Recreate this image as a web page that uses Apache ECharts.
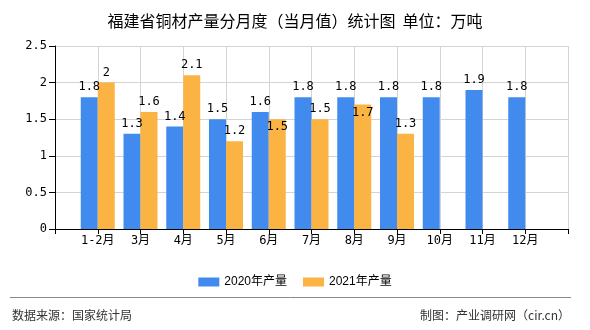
<!DOCTYPE html>
<html>
<head>
<meta charset="utf-8">
<script src="https://cdn.jsdelivr.net/npm/echarts@6/dist/echarts.min.js"></script>
<style>html,body{margin:0;padding:0;background:#fff;}#c{width:590px;height:330px;}</style>
</head>
<body>
<div id="c"></div>
<script>
const categories = ['1-2月','3月','4月','5月','6月','7月','8月','9月','10月','11月','12月'];
const values2020 = [1.8, 1.3, 1.4, 1.5, 1.6, 1.8, 1.8, 1.8, 1.8, 1.9, 1.8];
const values2021 = [2, 1.6, 2.1, 1.2, 1.5, 1.5, 1.7, 1.3, null, null, null];
const yTicks = [0, 0.5, 1, 1.5, 2, 2.5];
const seriesNames = ['2020年产量', '2021年产量'];

const monoFont = '"DejaVu Sans Mono", "Noto Sans CJK SC", monospace';
const cjkFont = '"Noto Sans CJK SC", sans-serif';

// pad axis with an empty slot at each end (the reference axis extends one step beyond first/last month)
const axisCats = [''].concat(categories, ['']);
function pad(arr) { return [null].concat(arr, [null]); }

const insideLabel2021 = { 4: true, 6: true };
const data2021 = pad(values2021).map((v, i) => {
  const k = i - 1;
  if (v !== null && insideLabel2021[k]) {
    return { value: v, label: { position: 'insideTop', distance: 2 } };
  }
  return v;
});

const chart = echarts.init(document.getElementById('c'), null, { renderer: 'canvas' });
const labelStyle = { show: true, position: 'top', distance: 4, color: '#000', fontSize: 12, fontFamily: monoFont,
  formatter: p => (p.value === null || p.value === undefined) ? '' : String(p.value) };

chart.setOption({
  animation: false,
  backgroundColor: '#fff',
  title: {
    text: '福建省铜材产量分月度（当月值）统计图  单位：万吨',
    left: 'center', top: 8,
    textStyle: { fontSize: 16, fontWeight: 'normal', color: '#000', fontFamily: cjkFont }
  },
  legend: {
    data: seriesNames,
    left: 'center', top: 271,
    icon: 'rect', itemWidth: 21, itemHeight: 9, itemGap: 16,
    textStyle: { fontSize: 12, color: '#000', fontFamily: '"Liberation Sans", "Noto Sans CJK SC", sans-serif' }
  },
  grid: { left: 55, right: 22, top: 46, bottom: 101, containLabel: false },
  xAxis: {
    type: 'category',
    data: axisCats,
    boundaryGap: false,
    axisLine: { show: true, lineStyle: { color: '#000', width: 1 } },
    axisTick: { show: true, length: 5, lineStyle: { color: '#000' } },
    axisLabel: { color: '#000', fontSize: 12, fontFamily: monoFont, margin: 6, interval: 0 },
    splitLine: { show: true, lineStyle: { color: '#d4d4d4', width: 1 } }
  },
  yAxis: {
    type: 'value',
    min: yTicks[0], max: yTicks[yTicks.length - 1], interval: yTicks[1] - yTicks[0],
    axisLine: { show: true, lineStyle: { color: '#000', width: 1 } },
    axisTick: { show: true, length: 6, lineStyle: { color: '#000' } },
    axisLabel: { color: '#000', fontSize: 12, fontFamily: monoFont, margin: 8 },
    splitLine: { show: true, lineStyle: { color: '#d4d4d4', width: 1 } }
  },
  series: [
    { name: seriesNames[0], type: 'bar', data: pad(values2020), barWidth: 17, barGap: '0%',
      itemStyle: { color: '#418BEE' }, label: labelStyle },
    { name: seriesNames[1], type: 'bar', data: data2021, barWidth: 17, barGap: '0%',
      itemStyle: { color: '#FBB343' }, label: labelStyle }
  ],
  graphic: [
    { type: 'line', shape: { x1: 10, y1: 297.5, x2: 571, y2: 297.5 }, style: { stroke: '#888', lineWidth: 1 } },
    { type: 'text', left: 12, top: 309, style: { text: '数据来源：国家统计局', fill: '#333', fontSize: 12, fontFamily: cjkFont } },
    { type: 'text', right: 20, top: 309, style: { text: '制图：产业调研网（cir.cn）', fill: '#333', fontSize: 12, fontFamily: cjkFont } }
  ]
});
</script>
</body>
</html>
